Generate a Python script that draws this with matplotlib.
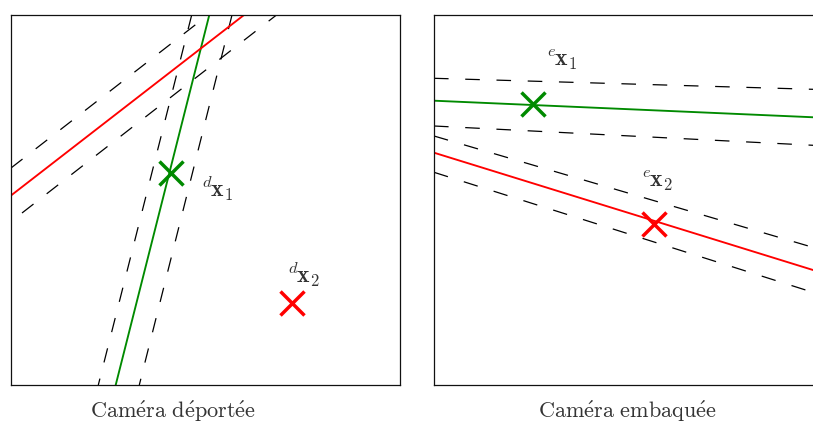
import matplotlib
matplotlib.use("Agg")
import matplotlib.pyplot as plt

plt.rcParams['mathtext.fontset'] = 'cm'
plt.rcParams['lines.scale_dashes'] = False

# panel coordinates: origin bottom-left of each frame, units ~ pixels
PANEL_W, PANEL_H = 389, 370

# --- Caméra déportée (left) ---
left_green = [(198.3, 370), (104.7, 0)]
left_green_bounds = [[(180.7, 370), (87.3, 0)], [(221.0, 370), (128.3, 0)]]
left_red = [(0, 189.5), (233.0, 370)]
left_red_bounds = [[(0, 217.0), (197.0, 370)], [(11.0, 172.0), (265.5, 370)]]
left_pts = [(160.0, 212.0), (281.0, 82.5)]
left_labels = [r"${}^{d}\hspace{-0.06}\mathbf{x}_{1}$", r"${}^{d}\hspace{-0.06}\mathbf{x}_{2}$"]
left_label_pos = [(190, 196), (276, 110)]

# --- Caméra embaquée (right) ---
right_green = [(0, 284.3), (389, 267.3)]
right_green_bounds = [[(0, 306.7), (389, 295.4)], [(0, 259.0), (389, 239.2)]]
right_red = [(0, 232.3), (389, 111.9)]
right_red_bounds = [[(0, 249.0), (389, 134.7)], [(0, 212.7), (389, 89.5)]]
right_pts = [(99.3, 280.7), (220.3, 160.7)]
right_labels = [r"${}^{e}\hspace{-0.06}\mathbf{x}_{1}$", r"${}^{e}\hspace{-0.06}\mathbf{x}_{2}$"]
right_label_pos = [(112, 325), (207, 204)]

captions = [r"$\mathrm{Cam\acute{e}ra\ d\acute{e}port\acute{e}e}$",
            r"$\mathrm{Cam\acute{e}ra\ embaqu\acute{e}e}$"]

GREEN = '#008a00'
RED = '#ff0000'
TXT = '#333333'

fig = plt.figure(figsize=(8.13, 4.23), dpi=100)
W, H = 813, 423


def draw_panel(ax, green, green_b, red, red_b, pts, labels, label_pos):
    ax.set_xlim(0, PANEL_W)
    ax.set_ylim(0, PANEL_H)
    for seg in green_b + red_b:
        (x0, y0), (x1, y1) = seg
        ax.plot([x0, x1], [y0, y1], color='black', lw=0.9, dashes=(10.5, 12))
    (x0, y0), (x1, y1) = green
    ax.plot([x0, x1], [y0, y1], color=GREEN, lw=1.35)
    (x0, y0), (x1, y1) = red
    ax.plot([x0, x1], [y0, y1], color=RED, lw=1.35)
    for (px, py), c in zip(pts, [GREEN, RED]):
        ax.plot(px, py, marker='x', ms=17, mew=2.5, color=c)
    for txt, (tx, ty) in zip(labels, label_pos):
        ax.text(tx, ty, txt, fontsize=17, color=TXT, ha='left', va='center')
    ax.set_xticks([])
    ax.set_yticks([])
    for s in ax.spines.values():
        s.set_linewidth(0.9)
        s.set_color('#111111')


ax1 = fig.add_axes([11 / W, 38 / H, PANEL_W / W, PANEL_H / H])
draw_panel(ax1, left_green, left_green_bounds, left_red, left_red_bounds,
           left_pts, left_labels, left_label_pos)
ax2 = fig.add_axes([434 / W, 38 / H, PANEL_W / W, PANEL_H / H])
draw_panel(ax2, right_green, right_green_bounds, right_red, right_red_bounds,
           right_pts, right_labels, right_label_pos)

fig.text(173 / W, 1 - 418 / H, captions[0], fontsize=16, color=TXT,
         ha='center', va='baseline')
fig.text(627.5 / W, 1 - 418 / H, captions[1], fontsize=16, color=TXT,
         ha='center', va='baseline')

fig.savefig("out.png", dpi=100)
